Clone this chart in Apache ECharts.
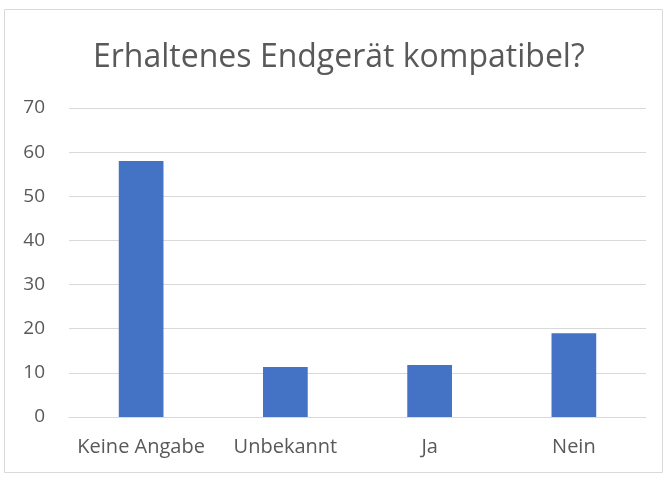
<!DOCTYPE html>
<html>
<head>
<meta charset="utf-8">
<script src="https://cdn.jsdelivr.net/npm/echarts@6/dist/echarts.min.js"></script>
<style>
html,body{margin:0;padding:0;background:#fff;}
#chart{width:668px;height:479px;}
</style>
</head>
<body>
<div id="chart"></div>
<script>
// Kategorien und Werte
var categories = ['Keine Angabe', 'Unbekannt', 'Ja', 'Nein'];
var values = [58, 11.3, 11.8, 19];
var titleText = 'Erhaltenes Endgerät kompatibel?';

var chart = echarts.init(document.getElementById('chart'));
var option = {
  animation: false,
  textStyle: {fontFamily: 'Open Sans'},
  graphic: [{
    type: 'rect',
    shape: {x: 4.5, y: 9.5, width: 658, height: 463},
    style: {fill: 'none', stroke: '#d9d9d9', lineWidth: 1},
    silent: true
  }],
  title: {
    text: titleText,
    left: 88,
    top: 37,
    textStyle: {fontSize: 32, fontWeight: 'normal', color: '#595959', fontFamily: 'Open Sans'}
  },
  grid: {left: 69, right: 22, top: 108, bottom: 62},
  xAxis: {
    type: 'category',
    data: categories,
    axisTick: {show: false},
    axisLine: {lineStyle: {color: '#d9d9d9', width: 1}},
    axisLabel: {color: '#595959', fontSize: 20, margin: 20, interval: 0}
  },
  yAxis: {
    type: 'value',
    min: 0, max: 70, interval: 10,
    axisLine: {show: false},
    axisTick: {show: false},
    splitLine: {lineStyle: {color: '#d9d9d9', width: 1}},
    axisLabel: {color: '#595959', fontSize: 19, margin: 24}
  },
  series: [{
    type: 'bar',
    data: values,
    barWidth: '31%',
    itemStyle: {color: '#4472c4'}
  }]
};
chart.setOption(option);
</script>
</body>
</html>
